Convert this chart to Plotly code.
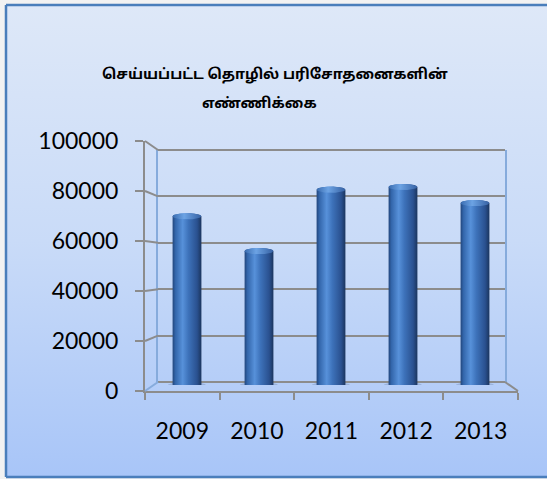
import numpy as np
import plotly.graph_objects as go

# ---------------- data ----------------
years = ["2009", "2010", "2011", "2012", "2013"]
inspections = [70300, 55800, 81400, 82500, 75800]
y_ticks = [0, 20000, 40000, 60000, 80000, 100000]
title_line1 = "செய்யப்பட்ட தொழில் பரிசோதனைகளின்"
title_line2 = "எண்ணிக்கை"

# ---------------- geometry (pixels of the 547x479 page) ----------------
W, H = 547, 479
def px(x):
    return x / W
def py(y):
    return 1 - y / H

Y_MAX = 100000
FRONT_L, FRONT_R, FRONT_B, FRONT_T = 145, 518, 391, 141
BACK_L, BACK_R, BACK_B, BACK_T = 158, 505, 382, 150
BAR_L, BAR_R, BAR_B, BAR_T = 151, 511, 385, 145

GRID = "#8C8C8C"
EDGE = "#86ABDC"
FONT = "Lato, Carlito, Calibri, 'Liberation Sans', sans-serif"
TAMIL = "'Noto Sans Tamil', Latha, sans-serif"

fig = go.Figure()

# background gradient (pixel subplot)
fig.add_trace(go.Scatter(
    x=[6, W, W, 6, 6], y=[5, 5, 477, 477, 5], mode="lines",
    line=dict(width=0), fill="toself",
    fillgradient=dict(type="vertical",
                      colorscale=[[0, "#A8C5F8"], [0.5, "#C9DBF8"], [1, "#DEE8F8"]]),
    hoverinfo="skip", showlegend=False, xaxis="x", yaxis="y"))

fig.add_trace(go.Scatter(x=[0], y=[0], mode="markers", marker=dict(opacity=0),
                         hoverinfo="skip", showlegend=False, xaxis="x2", yaxis="y2"))

HW = 0.2
RY = 1300
t = np.linspace(0, np.pi, 30)
tt = np.linspace(0, 2 * np.pi, 60)
for i, v in enumerate(inspections):
    fig.add_trace(go.Scatter(
        x=i + 0.27 * np.cos(tt), y=-RY * 0.2 + RY * 1.25 * np.sin(tt),
        mode="lines", line=dict(width=0), fill="toself",
        fillcolor="rgba(60,80,120,0.22)", hoverinfo="skip", showlegend=False,
        xaxis="x3", yaxis="y3"))
for i, v in enumerate(inspections):
    top_x = i - HW * np.cos(t)
    top_y = v + RY * np.sin(t)
    bot_x = i + HW * np.cos(t)
    bot_y = -RY * np.sin(t)
    xs = np.concatenate([top_x, bot_x, top_x[:1]])
    ys = np.concatenate([top_y, bot_y, top_y[:1]])
    fig.add_trace(go.Scatter(
        x=xs, y=ys, mode="lines", line=dict(width=0), fill="toself",
        fillgradient=dict(type="horizontal", colorscale=[
            [0, "#22467C"], [0.1, "#3366AB"], [0.35, "#5791DA"],
            [0.55, "#3D72BA"], [0.85, "#2A5190"], [1, "#1B355E"]]),
        hoverinfo="skip", showlegend=False, xaxis="x3", yaxis="y3"))
    fig.add_trace(go.Scatter(
        x=i + HW * np.cos(tt), y=v + RY * np.sin(tt), mode="lines",
        line=dict(width=0), fill="toself",
        fillgradient=dict(type="horizontal", colorscale=[
            [0, "#3A6CB0"], [0.4, "#6CA3E4"], [1, "#3661A3"]]),
        hoverinfo="skip", showlegend=False, xaxis="x3", yaxis="y3"))

fig.add_trace(go.Scatter(x=years, y=inspections, mode="markers",
                         marker=dict(opacity=0), hoverinfo="skip", showlegend=False,
                         xaxis="x4", yaxis="y4"))

def yf(v):
    return FRONT_B - v * (FRONT_B - FRONT_T) / Y_MAX
def yb(v):
    return BACK_B - v * (BACK_B - BACK_T) / Y_MAX

shapes = []
for v in y_ticks:
    shapes.append(dict(type="line", xref="paper", yref="paper",
                       x0=px(FRONT_L), y0=py(yf(v)), x1=px(BACK_L), y1=py(yb(v)),
                       line=dict(color=EDGE if v == 0 else GRID, width=2)))
# top edge of the back wall
shapes.append(dict(type="line", xref="paper", yref="paper",
                   x0=px(BACK_L), y0=py(yb(Y_MAX)), x1=px(BACK_R), y1=py(yb(Y_MAX)),
                   line=dict(color=GRID, width=2)))
shapes.append(dict(type="line", xref="paper", yref="paper",
                   x0=px(FRONT_R), y0=py(FRONT_B), x1=px(BACK_R), y1=py(BACK_B),
                   line=dict(color=GRID, width=2)))
BORDER = dict(color="#4A7EBB", width=2.5)
shapes.append(dict(type="line", xref="paper", yref="paper",
                   x0=px(6), y0=py(5), x1=1, y1=py(5), line=BORDER))
shapes.append(dict(type="line", xref="paper", yref="paper",
                   x0=px(6), y0=py(5), x1=px(6), y1=py(477), line=BORDER))
shapes.append(dict(type="line", xref="paper", yref="paper",
                   x0=px(6), y0=py(477), x1=1, y1=py(477), line=BORDER))

fig.update_layout(
    template="none",
    width=W, height=H, autosize=False,
    margin=dict(l=0, r=0, t=0, b=0, pad=0),
    paper_bgcolor="#F2F2F2", plot_bgcolor="rgba(0,0,0,0)",
    showlegend=False,
    xaxis=dict(domain=[0, 1], range=[0, W], visible=False, automargin=False),
    yaxis=dict(domain=[0, 1], range=[H, 0], visible=False, automargin=False),
    xaxis2=dict(domain=[px(BACK_L), px(BACK_R)], anchor="y2", range=[-0.5, 4.5],
                showgrid=False, zeroline=False, showticklabels=False, showline=False,
                ticks="", automargin=False),
    yaxis2=dict(domain=[py(BACK_B), py(BACK_T)], anchor="x2", range=[0, Y_MAX],
                tickvals=y_ticks, showticklabels=False, ticks="",
                showgrid=True, gridcolor=GRID, gridwidth=2,
                zeroline=True, zerolinecolor=GRID, zerolinewidth=2,
                showline=True, mirror=True, linecolor=EDGE, linewidth=2, automargin=False),
    xaxis3=dict(domain=[px(BAR_L), px(BAR_R)], anchor="y3", range=[-0.5, 4.5],
                visible=False, automargin=False),
    yaxis3=dict(domain=[py(BAR_B), py(BAR_T)], anchor="x3", range=[0, Y_MAX],
                visible=False, automargin=False),
    xaxis4=dict(domain=[px(FRONT_L), px(FRONT_R)], anchor="y4", type="category",
                categoryorder="array", categoryarray=years, range=[-0.5, 4.5],
                tickson="boundaries", ticks="outside", ticklen=7, tickwidth=2, tickcolor=GRID,
                showline=True, linecolor=GRID, linewidth=2, showgrid=False, zeroline=False,
                tickfont=dict(family=FONT, size=23, color="#000000"),
                ticklabelstandoff=18, automargin=False),
    yaxis4=dict(domain=[py(FRONT_B), py(FRONT_T)], anchor="x4", range=[0, Y_MAX],
                tickvals=y_ticks, ticktext=[str(v) for v in y_ticks],
                ticks="outside", ticklen=8, tickwidth=2, tickcolor=GRID,
                showline=True, linecolor=GRID, linewidth=2, showgrid=False, zeroline=False,
                tickfont=dict(family=FONT, size=23, color="#000000"),
                ticklabelstandoff=12, automargin=False),
    shapes=shapes,
    annotations=[
        dict(text="<b>" + title_line1 + "</b>", xref="paper", yref="paper",
             x=px(275), y=py(75), showarrow=False, xanchor="center", yanchor="middle",
             font=dict(family=TAMIL, size=14.5, color="#000000")),
        dict(text="<b>" + title_line2 + "</b>", xref="paper", yref="paper",
             x=px(259), y=py(104), showarrow=False, xanchor="center", yanchor="middle",
             font=dict(family=TAMIL, size=14.5, color="#000000")),
    ],
)

fig.write_html("out.html", config={"displayModeBar": False},
               post_script="document.body.style.margin='0px';")
